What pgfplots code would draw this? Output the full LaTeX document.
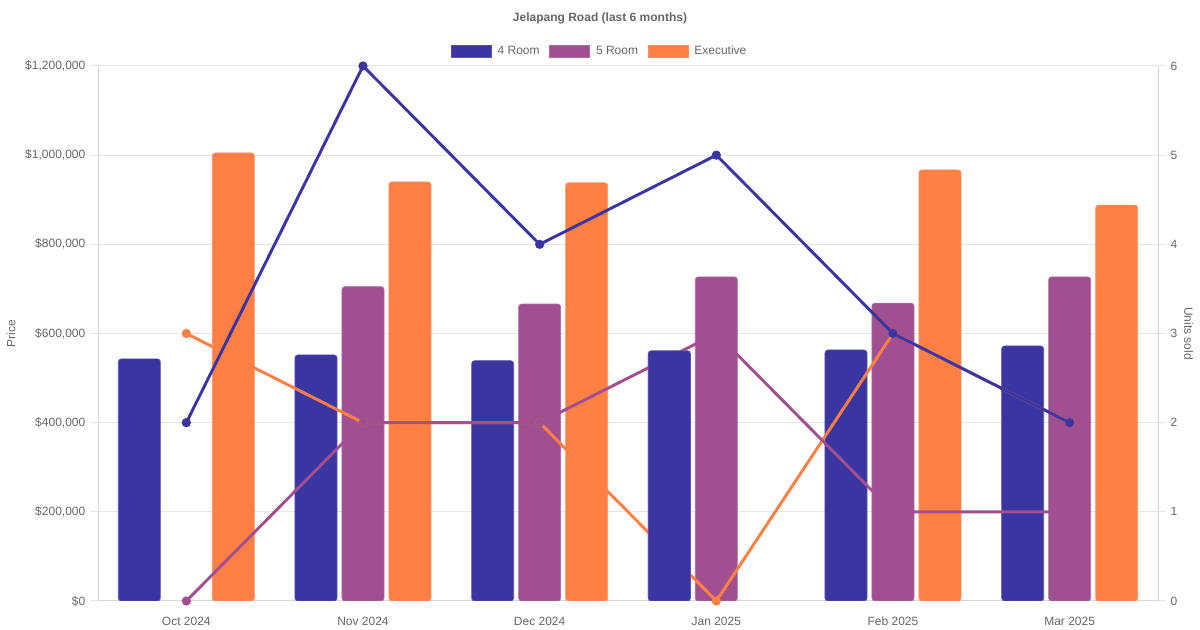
\documentclass[border=0pt]{standalone}
\usepackage{pgfplots}
\pgfplotsset{compat=1.18}
\usepackage{fontspec}
\setmainfont{Liberation Sans}
\definecolor{cA}{RGB}{58,53,160}
\definecolor{cB}{RGB}{160,80,144}
\definecolor{cC}{RGB}{255,127,69}
\definecolor{txt}{RGB}{102,102,102}
\definecolor{grd}{RGB}{229,229,229}
\definecolor{axl}{RGB}{215,215,215}
\newcommand{\tf}{\fontsize{9}{11}\selectfont}
\begin{document}
\begin{tikzpicture}
\path[use as bounding box] (0,0) rectangle (900pt,472.5pt);
\pgfplotsset{
  base/.style={
    scale only axis, width=795pt, height=401.25pt,
    at={(73.5pt,21.75pt)}, anchor=south west,
    xmin=-0.5, xmax=5.5,
    /pgf/number format/assume math mode=true,
    tick label style={font=\tf, text=txt},
    label style={font=\tf, text=txt},
  },
  barA/.style={fill=cA, draw=cA!85!white, line width=0.5pt, rounded corners=2.2pt, bar shift=-0.266},
  barB/.style={fill=cB, draw=cB!85!white, line width=0.5pt, rounded corners=2.2pt, bar shift=0},
  barC/.style={fill=cC, draw=cC!85!white, line width=0.5pt, rounded corners=2.2pt, bar shift=0.266},
}
% ---------- Price axis with bars ----------
\begin{axis}[base,
  ymin=0, ymax=1200000,
  ybar, bar width=0.238,
  axis y line*=left, axis x line*=bottom,
  axis line style={draw=axl, line width=0.75pt},
  xtick={0,1,2,3,4,5},
  xticklabels={Oct 2024,Nov 2024,Dec 2024,Jan 2025,Feb 2025,Mar 2025},
  xtick style={draw=none},
  xticklabel style={yshift=-2.7pt},
  ytick={0,200000,400000,600000,800000,1000000,1200000},
  yticklabels={{\$0},{\$200,000},{\$400,000},{\$600,000},{\$800,000},{\$1,000,000},{\$1,200,000}},
  scaled y ticks=false,
  ymajorgrids, grid style={grd, line width=0.75pt},
  ytick style={grd, line width=0.75pt},
  tick align=outside, major tick length=6pt,
  ylabel={Price},
  ylabel style={at={(axis description cs:-0.082,0.5)}, anchor=center},
  legend columns=3,
  legend style={at={(axis description cs:0.4736,1.028)}, anchor=center,
    draw=none, fill=none, font=\tf, text=txt,
    /tikz/every even column/.append style={column sep=5.25pt}},
  legend image code/.code={\path[#1, rounded corners=0pt] (0pt,-4.5pt) rectangle (30pt,4.5pt); \path (32.5pt,0pt);},
]
\addplot[barA] coordinates {(0,543000) (1,552000) (2,539000) (3,561000) (4,563000) (5,572000)};
\addlegendentry{4 Room}
\addplot[barB] coordinates {(1,705000) (2,666000) (3,727000) (4,668000) (5,727000)};
\addlegendentry{5 Room}
\addplot[barC] coordinates {(0,1005000) (1,940000) (2,938000) (4,967000) (5,888000)};
\addlegendentry{Executive}
\end{axis}
% ---------- Units axis with lines ----------
\begin{axis}[base,
  ymin=0, ymax=6, clip=false,
  axis x line=none, axis y line*=right,
  axis line style={draw=axl, line width=0.75pt},
  ytick={0,1,2,3,4,5,6},
  yticklabels={0,1,2,3,4,5,6},
  ytick style={grd, line width=0.75pt},
  tick align=outside, major tick length=6pt,
  ylabel={Units sold},
  every axis y label/.style={at={(axis description cs:1.029,0.5)}, anchor=center, rotate=-90, font=\tf, text=txt},
]
\addplot[cC, line width=2.2pt, mark=*, mark size=2.3pt] coordinates {(0,3) (1,2) (2,2) (3,0) (4,3) (5,2)};
\addplot[cB, line width=2.2pt, mark=*, mark size=2.3pt] coordinates {(0,0) (1,2) (2,2) (3,3) (4,1) (5,1)};
\addplot[cA, line width=2.2pt, mark=*, mark size=2.3pt] coordinates {(0,2) (1,6) (2,4) (3,5) (4,3) (5,2)};
\end{axis}
% ---------- Jan 4 Room bar drawn over the lines ----------
\begin{axis}[base, hide axis, ymin=0, ymax=1200000, ybar, bar width=0.238]
\addplot[barA] coordinates {(3,561000)};
\end{axis}
\node[font=\bfseries\tf, text=txt] at (450pt,459pt) {Jelapang Road (last 6 months)};
\end{tikzpicture}
\end{document}
